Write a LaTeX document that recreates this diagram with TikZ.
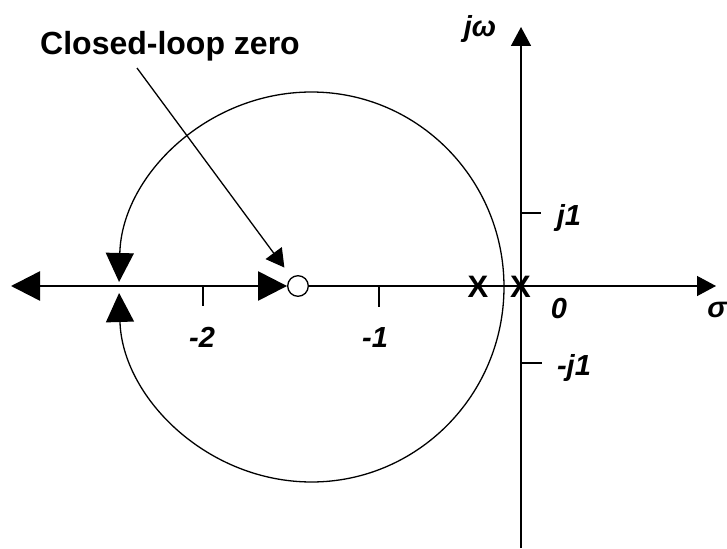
\documentclass[tikz,border=0pt]{standalone}
\usepackage{fontspec}
\setmainfont{Liberation Sans}
\usetikzlibrary{arrows.meta}
\tikzset{
  BigTri/.tip={Triangle[length=29pt,width=29pt]},
  MidTri/.tip={Triangle[length=29pt,width=28pt]},
  SmallTri/.tip={Triangle[length=19pt,width=20pt]},
  PtrTri/.tip={Triangle[length=18pt,width=20pt]},
}
\begin{document}
\begin{tikzpicture}[x=1pt,y=-1pt,
  lbl/.style={font=\fontsize{29}{31}\selectfont\bfseries\itshape, inner sep=0pt, anchor=base},
  pole/.style={font=\fontsize{31}{33}\selectfont\bfseries, inner sep=0pt},
  tickmark/.style={line width=2.5pt},
  thinax/.style={line width=1.3pt},
  locus/.style={line width=1.3pt},
  zerostyle/.style={draw, circle, line width=1.3pt, minimum size=20.6pt, inner sep=0pt}]
\useasboundingbox (0,0) rectangle (727,548);

% axes
\coordinate (lend) at (11,286);
\node[zerostyle] (zero) at (298,286) {};
\coordinate (rend) at (716,286);
\coordinate (vbot) at (521,548);
\coordinate (vtop) at (521,27);
\draw[thinax, -{SmallTri}] (zero.east) -- (rend);
\draw[line width=1.5pt, -{SmallTri}] (vbot) -- (vtop);
\draw[line width=2.5pt, {BigTri}-{BigTri}] (lend) -- (zero.west);

% ticks
\draw[tickmark] (203,286) -- (203,306);
\draw[tickmark] (379,287) -- (379,307);
\draw[tickmark] (521,213) -- (541,213);
\draw[tickmark] (521,363) -- (542,363);

% labels
\node[lbl] (lm2) at (202,347) {-2};
\node[lbl] (lm1) at (375,347) {-1};
\node[lbl] (l0) at (559,318) {0};
\node[lbl] (lj1) at (569,225) {j1};
\node[lbl] (lmj1) at (574,375) {-j1};
\node[lbl] (ljw) at (480,37) {jω};
\node[lbl] (lsig) at (717,317) {σ};

% poles
\node[pole] (p1) at (478,287) {X};
\node[pole] (p2) at (520.5,287) {X};

% root locus
\coordinate (lc) at (311.5,287);
\draw[locus, {MidTri}-{MidTri}] (lc) ++(181.47:192.5 and 195)
  arc[start angle=181.47, end angle=538.24, x radius=192.5, y radius=195];

% annotation
\node[font=\fontsize{32}{34}\selectfont\bfseries, inner sep=0pt, anchor=base west] (title) at (40,55) {Closed-loop zero};
\coordinate (ptr) at (137,68);
\draw[locus, -{PtrTri}, shorten >=12pt] (ptr) -- (zero);
\end{tikzpicture}
\end{document}
